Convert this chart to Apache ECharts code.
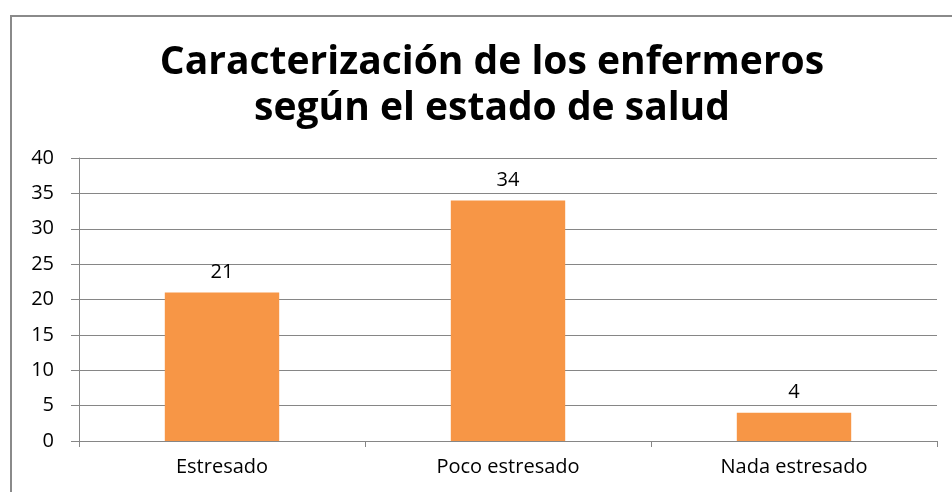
<!DOCTYPE html>
<html>
<head>
<meta charset="utf-8">
<script src="https://cdn.jsdelivr.net/npm/echarts@6/dist/echarts.min.js"></script>
<style>
  html, body { margin: 0; padding: 0; background: #fff; }
  #main { width: 952px; height: 492px; }
</style>
</head>
<body>
<div id="main"></div>
<script>
// datos del gráfico
var categorias = ['Estresado', 'Poco estresado', 'Nada estresado'];
var valores = [21, 34, 4];
var titulo = 'Caracterización de los enfermeros\nsegún el estado de salud';

var myChart = echarts.init(document.getElementById('main'));
myChart.setOption({
  animation: false,
  textStyle: { fontFamily: 'Open Sans' },
  graphic: [{
    type: 'rect',
    shape: { x: 11, y: 16, width: 960, height: 500 },
    style: { fill: 'none', stroke: '#8a8a8a', lineWidth: 2 },
    silent: true
  }],
  title: {
    text: titulo,
    left: 487,
    top: 35,
    textAlign: 'center',
    textStyle: {
      fontFamily: 'Open Sans',
      fontSize: 39,
      fontWeight: 'bold',
      color: '#000',
      lineHeight: 46
    }
  },
  grid: { left: 79, right: 15, top: 158, bottom: 51 },
  xAxis: {
    type: 'category',
    data: categorias,
    axisLine: { lineStyle: { color: '#868686' } },
    axisTick: { show: true, length: 6, lineStyle: { color: '#868686' } },
    axisLabel: { color: '#000', fontSize: 20, margin: 16 }
  },
  yAxis: {
    type: 'value',
    min: 0,
    max: 40,
    interval: 5,
    axisLine: { show: true, lineStyle: { color: '#868686' } },
    axisTick: { show: true, length: 8, lineStyle: { color: '#868686' } },
    axisLabel: { color: '#000', fontSize: 20, margin: 25 },
    splitLine: { lineStyle: { color: '#868686' } }
  },
  series: [{
    name: 'Enfermeros',
    type: 'bar',
    data: valores,
    barWidth: '40%',
    itemStyle: { color: '#F79646' },
    label: { show: true, position: 'top', color: '#000', fontSize: 20, distance: 10 }
  }]
});
</script>
</body>
</html>
